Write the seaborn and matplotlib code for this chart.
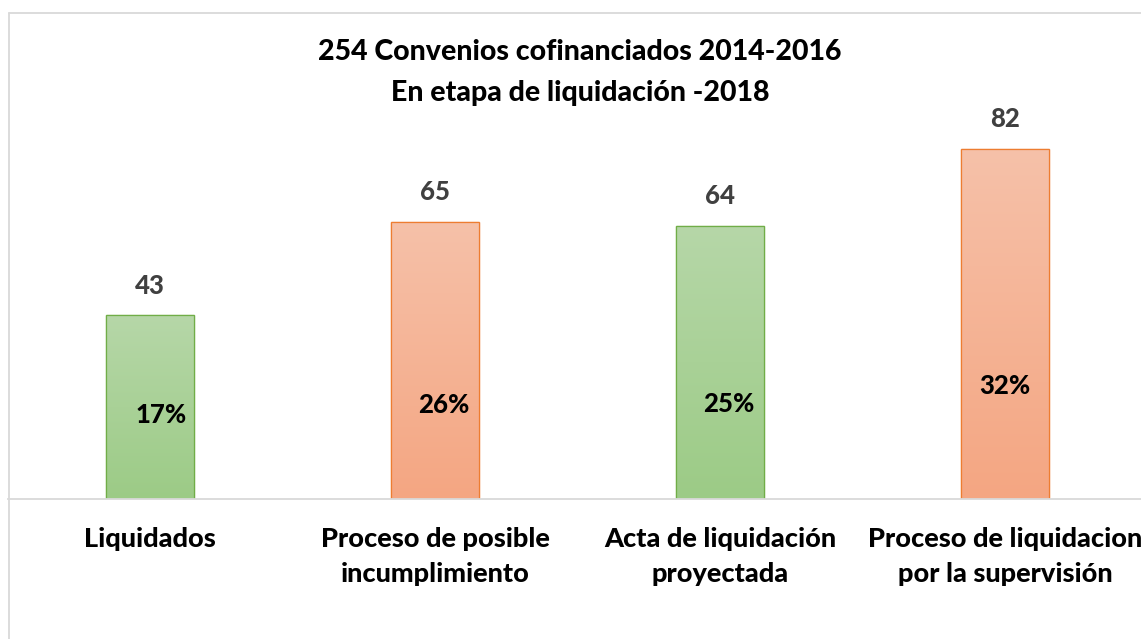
import numpy as np
import pandas as pd
import matplotlib
matplotlib.use("Agg")
import matplotlib.pyplot as plt
import seaborn as sns
from matplotlib.colors import LinearSegmentedColormap
from matplotlib.lines import Line2D

# ---- data ----
categories = ["Liquidados", "Proceso de posible\nincumplimiento",
              "Acta de liquidación\nproyectada", "Proceso de liquidacion\npor la supervisión"]
values = [43, 65, 64, 82]
percent_labels = ["17%", "26%", "25%", "32%"]
title_lines = ["254 Convenios cofinanciados 2014-2016", "En etapa de liquidación -2018"]

# ---- style ----
pct_label_y = [19.7, 22.0, 22.3, 26.5]
pct_label_dx = [0.04, 0.03, 0.03, 0.0]
kind = ["g", "o", "g", "o"]
grad = {"g": ("#B6D7A8", "#9CCB86"), "o": ("#F6C1A9", "#F4A682")}
edge = {"g": "#70AD47", "o": "#ED7D31"}
WT = 900

sns.set_theme(style="white")
plt.rcParams['font.family'] = ['Lato', 'DejaVu Sans']

W, H = 1141, 639
fig = plt.figure(figsize=(W / 100, H / 100), dpi=100)
fig.patch.set_facecolor("white")

left_px, right_px, base_px, top_px = 7.5, 1147.5, 499, 13
ax = fig.add_axes([left_px / W, (H - base_px) / H, (right_px - left_px) / W, (base_px - top_px) / H])

df = pd.DataFrame({"cat": categories, "val": values})
pal = {c: grad[k][1] for c, k in zip(categories, kind)}
sns.barplot(data=df, x="cat", y="val", hue="cat", palette=pal, width=0.312,
            legend=False, ax=ax, saturation=1)

ax.set_xlim(-0.5, 3.5)
ax.set_ylim(0, (base_px - top_px) / 4.268)

for bar, k in zip(ax.patches, kind):
    x0, y0 = bar.get_x(), bar.get_y()
    w, h = bar.get_width(), bar.get_height()
    cmap = LinearSegmentedColormap.from_list("g", [grad[k][1], grad[k][0]])
    img = np.linspace(0, 1, 256).reshape(-1, 1)
    im = ax.imshow(img, cmap=cmap, origin="lower", aspect="auto",
                   extent=[x0, x0 + w, y0, y0 + h], zorder=bar.get_zorder() + 0.1)
    im.set_clip_path(bar)
    bar.set_edgecolor(edge[k])
    bar.set_linewidth(0.9)
    ax.add_patch(plt.Rectangle((x0, y0), w, h, fill=False, edgecolor=edge[k],
                               linewidth=0.9, zorder=bar.get_zorder() + 0.2))

ax.set_xlim(-0.5, 3.5)

for i, v in enumerate(values):
    ax.annotate(str(v), (i, v), xytext=(0, 21.5), textcoords="offset points",
                ha="center", va="center", fontsize=18.5, fontweight=WT, color="#404040")
    ax.text(i + pct_label_dx[i], pct_label_y[i], percent_labels[i], ha="center", va="center",
            fontsize=18.5, fontweight=WT, color="black", zorder=5)

ax.set_xlabel("")
ax.set_ylabel("")
ax.set_yticks([])
ax.tick_params(axis="x", length=0, pad=20)
ax.set_xticks(range(len(categories)))
ax.set_xticklabels(categories, fontsize=19.5, fontweight=WT, color="black", linespacing=1.55)
for s in ["top", "right", "left"]:
    ax.spines[s].set_visible(False)
ax.spines["bottom"].set_color("#D9D9D9")
ax.spines["bottom"].set_linewidth(1.3)

fig.add_artist(Line2D([9 / W, 9 / W], [0, (H - 13) / H], color="#D9D9D9", lw=1.3, transform=fig.transFigure))
fig.add_artist(Line2D([9 / W, 1.0], [(H - 13) / H, (H - 13) / H], color="#D9D9D9", lw=1.3, transform=fig.transFigure))

fig.text(580 / W, 1 - 52 / H, title_lines[0], ha="center", va="center", fontsize=20.5, fontweight=WT, color="black")
fig.text(580 / W, 1 - 93 / H, title_lines[1], ha="center", va="center", fontsize=20.5, fontweight=WT, color="black")

fig.savefig("out.png", dpi=100, facecolor="white")
